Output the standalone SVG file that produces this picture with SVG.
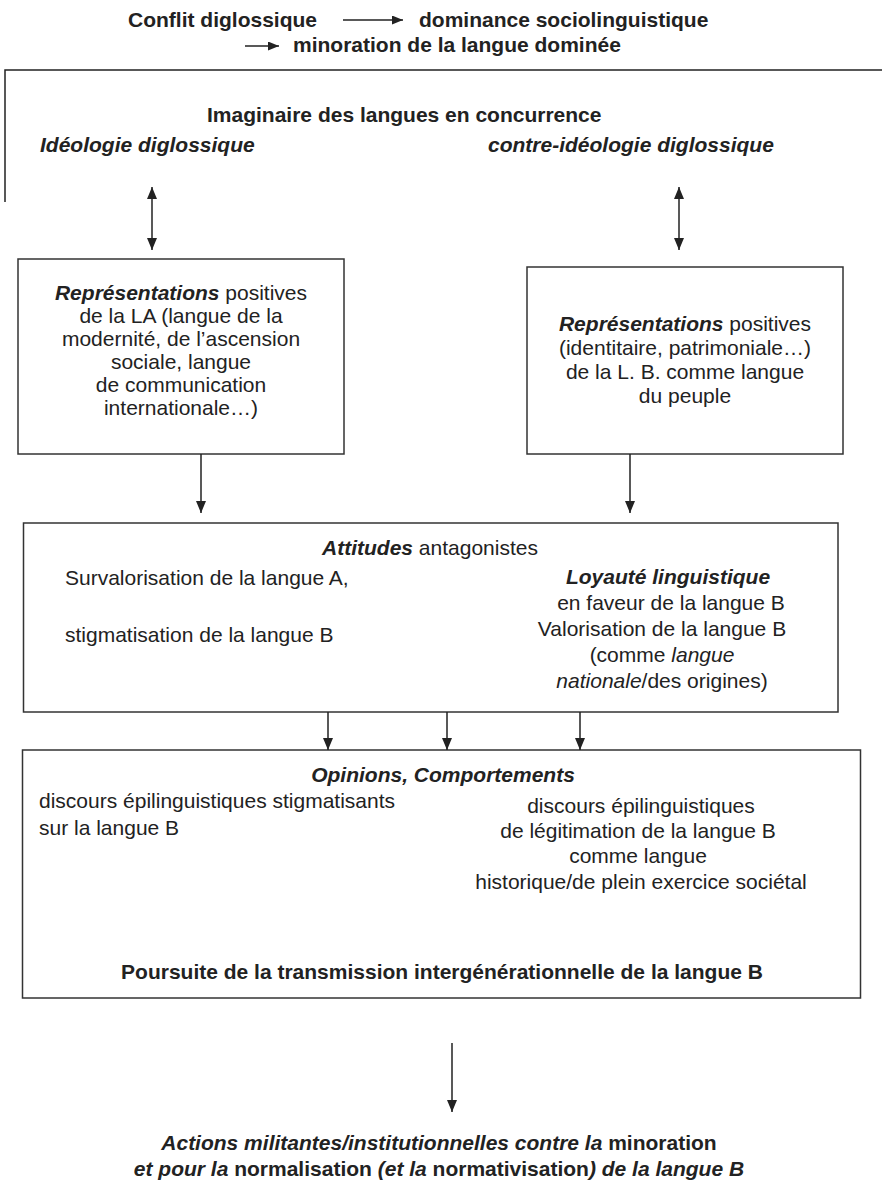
<svg xmlns="http://www.w3.org/2000/svg" width="882" height="1192" viewBox="0 0 882 1192">
<style>
.t{font-family:"Liberation Sans",Arial,sans-serif;font-size:21px;fill:#222}
.b{font-weight:bold}
.i{font-style:italic}
.bi{font-weight:bold;font-style:italic}
.n{font-weight:normal;font-style:normal}
.c{text-anchor:middle}
.box{fill:#fff;stroke:#333;stroke-width:1.5}
.ln{fill:none;stroke:#222;stroke-width:1.5}
</style>
<defs>
<marker id="ah" markerUnits="userSpaceOnUse" markerWidth="12" markerHeight="10" refX="12" refY="5" orient="auto-start-reverse" viewBox="0 0 12 10">
<path d="M0,0 L12,5 L0,10 z" fill="#222"/>
</marker>
<marker id="ahs" markerUnits="userSpaceOnUse" markerWidth="11" markerHeight="9" refX="11" refY="4.5" orient="auto" viewBox="0 0 11 9">
<path d="M0,0 L11,4.5 L0,9 z" fill="#222"/>
</marker>
</defs>

<g id="header">
<text class="t b" x="128" y="27">Conflit diglossique</text>
<text class="t b" x="419" y="27">dominance sociolinguistique</text>
<text class="t b" x="293" y="52">minoration de la langue dominée</text>
</g>

<g id="frame">
<path class="ln" d="M5,202 L5,70 L882,70"/>
</g>

<g id="imaginaire">
<text class="t b" x="207" y="122">Imaginaire des langues en concurrence</text>
<text class="t bi" x="40" y="152">Idéologie diglossique</text>
<text class="t bi" x="488" y="152">contre-idéologie diglossique</text>
</g>

<g id="rep-left">
<rect class="box" x="18" y="259" width="326" height="195"/>
<text class="t c" x="181" y="300"><tspan class="bi">Représentations</tspan> positives</text>
<text class="t c" x="181" y="323">de la LA (langue de la</text>
<text class="t c" x="181" y="346">modernité, de l’ascension</text>
<text class="t c" x="181" y="369">sociale, langue</text>
<text class="t c" x="181" y="392">de communication</text>
<text class="t c" x="181" y="415">internationale…)</text>
</g>

<g id="rep-right">
<rect class="box" x="527" y="267" width="316" height="187"/>
<text class="t c" x="685" y="331"><tspan class="bi">Représentations</tspan> positives</text>
<text class="t c" x="685" y="355">(identitaire, patrimoniale…)</text>
<text class="t c" x="685" y="379">de la L. B. comme langue</text>
<text class="t c" x="685" y="403">du peuple</text>
</g>

<g id="attitudes">
<rect class="box" x="23.5" y="523" width="814.5" height="189"/>
<text class="t c" x="430" y="555"><tspan class="bi">Attitudes</tspan> antagonistes</text>
<text class="t" x="65" y="585">Survalorisation de la langue A,</text>
<text class="t" x="65" y="642">stigmatisation de la langue B</text>
<text class="t bi c" x="668" y="584">Loyauté linguistique</text>
<text class="t c" x="671" y="610">en faveur de la langue B</text>
<text class="t c" x="662" y="636">Valorisation de la langue B</text>
<text class="t c" x="662" y="662">(comme <tspan class="i">langue</tspan></text>
<text class="t c" x="662" y="688"><tspan class="i">nationale</tspan>/des origines)</text>
</g>

<g id="opinions">
<rect class="box" x="22.5" y="750" width="838" height="248"/>
<text class="t bi c" x="443" y="782">Opinions, Comportements</text>
<text class="t" x="39" y="808">discours épilinguistiques stigmatisants</text>
<text class="t" x="39" y="835">sur la langue B</text>
<text class="t c" x="641" y="813">discours épilinguistiques</text>
<text class="t c" x="638" y="838">de légitimation de la langue B</text>
<text class="t c" x="638" y="863">comme langue</text>
<text class="t c" x="641" y="889">historique/de plein exercice sociétal</text>
<text class="t b c" x="442" y="979">Poursuite de la transmission intergénérationnelle de la langue B</text>
</g>

<g id="actions">
<text class="t bi c" x="439" y="1150">Actions militantes/institutionnelles contre la<tspan class="b" font-style="normal"> minoration</tspan></text>
<text class="t bi c" x="439" y="1176">et pour la<tspan font-style="normal"> normalisation </tspan>(et la<tspan font-style="normal"> normativisation</tspan>) de la langue B</text>
</g>

<g id="connectors">
<line class="ln" x1="343" y1="20" x2="403" y2="20" marker-end="url(#ahs)"/>
<line class="ln" x1="245" y1="46" x2="279" y2="46" marker-end="url(#ahs)"/>
<line class="ln" x1="152" y1="187" x2="152" y2="250" marker-start="url(#ah)" marker-end="url(#ah)"/>
<line class="ln" x1="679" y1="187" x2="679" y2="250" marker-start="url(#ah)" marker-end="url(#ah)"/>
<line class="ln" x1="201" y1="454" x2="201" y2="513" marker-end="url(#ah)"/>
<line class="ln" x1="630" y1="454" x2="630" y2="513" marker-end="url(#ah)"/>
<line class="ln" x1="328" y1="712" x2="328" y2="750" marker-end="url(#ah)"/>
<line class="ln" x1="447" y1="712" x2="447" y2="750" marker-end="url(#ah)"/>
<line class="ln" x1="580" y1="712" x2="580" y2="750" marker-end="url(#ah)"/>
<line class="ln" x1="452" y1="1043" x2="452" y2="1112" marker-end="url(#ah)"/>
</g>
</svg>
